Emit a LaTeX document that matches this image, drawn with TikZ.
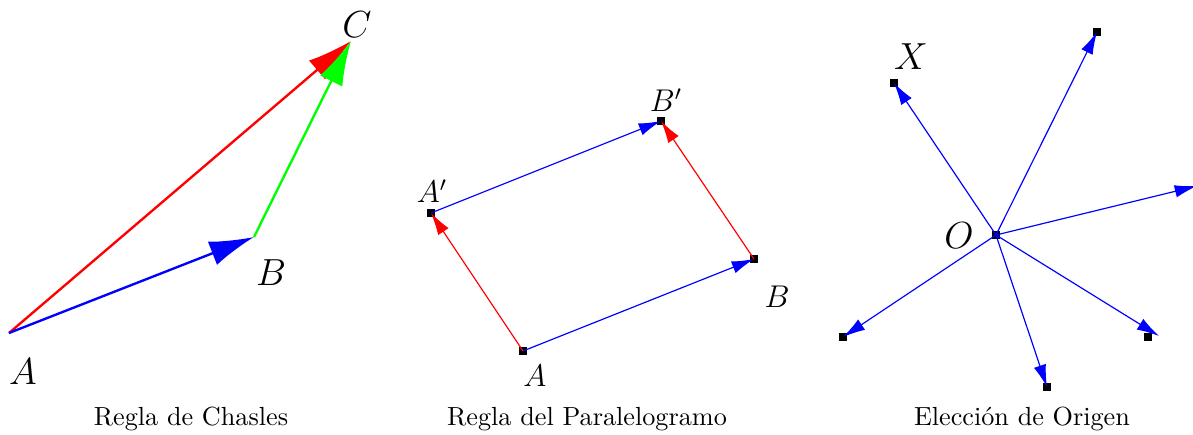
\documentclass[tikz,border=0pt]{standalone}
\usetikzlibrary{arrows.meta}

\begin{document}
\begin{tikzpicture}[x=0.01341cm, y=-0.01341cm,
    punto/.style={rectangle, fill=black, inner sep=0pt, minimum size=3.3pt},
    grueso/.style={line width=0.9pt, -{Latex[length=17pt, width=9.5pt]}},
    fino/.style={line width=0.45pt, -{Latex[length=8.5pt, width=4.8pt]}},
    grande/.style={font=\Large},
    mediana/.style={font=\large}]

    \useasboundingbox (0,0) rectangle (1193,435);

    % =================================================================
    % IZQUIERDA: REGLA DE CHASLES
    % =================================================================
    \begin{scope}
        \coordinate (cA) at (9,333);
        \coordinate (cB) at (254,237);
        \coordinate (cC) at (351,41);

        \draw[grueso, red] (cA) -- (cC);
        \draw[grueso, green] (cB) -- (cC);
        \draw[grueso, blue] (cA) -- (cB);

        \node[grande] (labA) at (23,372) {$A$};
        \node[grande] (labB) at (271,273) {$B$};
        \node[grande] (labC) at (357,25) {$C$};

        \node (tit1) at (191,419) {Regla de Chasles};
    \end{scope}

    % =================================================================
    % CENTRO: REGLA DEL PARALELOGRAMO
    % =================================================================
    \begin{scope}
        \node[punto] (pA) at (523,351) {};
        \node[punto] (pB) at (754,259) {};
        \node[punto] (pAp) at (431,213) {};
        \node[punto] (pBp) at (661,121) {};

        % lados azules y rojos
        \draw[fino, blue] (pA.center) -- (pB.center);
        \draw[fino, blue] (pAp.center) -- (pBp.center);
        \draw[fino, red] (pA.center) -- (pAp.center);
        \draw[fino, red] (pB.center) -- (pBp.center);

        \node[mediana] (labpA) at (535,376) {$A$};
        \node[mediana] (labpB) at (777,297) {$B$};
        \node[mediana] (labpAp) at (432,191) {$A'$};
        \node[mediana] (labpBp) at (666,100) {$B'$};

        \node (tit2) at (587,419) {Regla del Paralelogramo};
    \end{scope}

    % =================================================================
    % DERECHA: ELECCION DE ORIGEN
    % =================================================================
    \begin{scope}
        \node[punto] (O) at (996,235) {};
        \node[punto] (X) at (894,83) {};
        \node[punto] (P1) at (1097,32) {};
        \node[punto] (P2) at (1197,186) {};
        \node[punto] (P3) at (1148,337) {};
        \node[punto] (P4) at (1047,387) {};
        \node[punto] (P5) at (843,337) {};
        \coordinate (P3f) at (1159,336);

        \foreach \p in {X,P1,P2,P3f,P4,P5}
            \draw[fino, blue] (O.center) -- (\p.center);

        \node[grande] (labO) at (959,236) {$O$};
        \node[grande] (labX) at (911,57) {$X$};

        \node (tit3) at (1022,419) {Elección de Origen};
    \end{scope}

\end{tikzpicture}
\end{document}
